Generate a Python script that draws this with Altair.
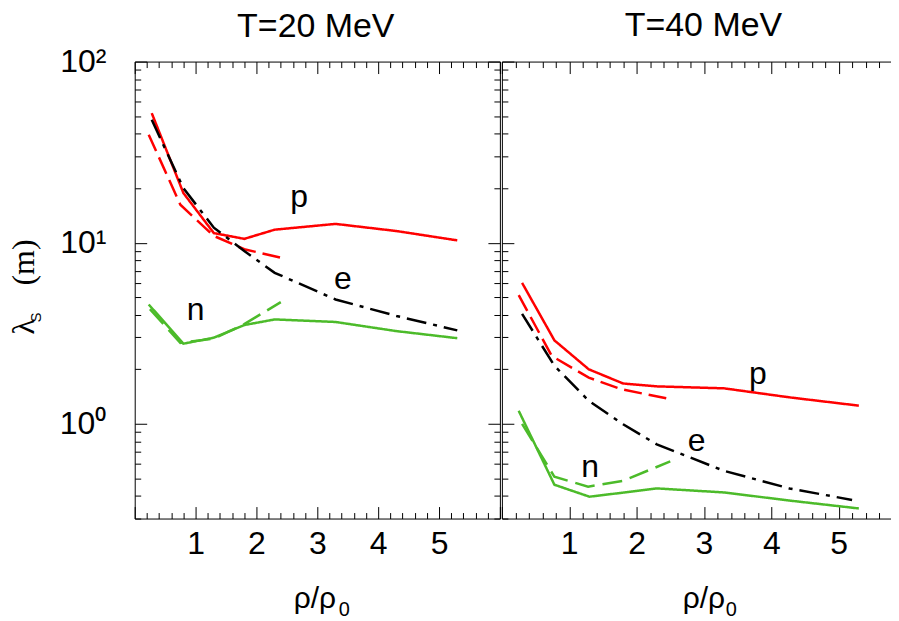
import altair as alt
import pandas as pd

FONT = "Liberation Sans"
SERIF = "Liberation Serif"

# ---------------- T = 20 MeV ----------------
x20_p = [0.28, 0.8, 1.3, 1.8, 2.3, 3.3, 4.3, 5.3]
p20_solid = [51.9, 18.8, 11.3, 10.5, 11.8, 12.7, 11.6, 10.3]
x20_pd = [0.23, 0.75, 1.3, 1.8, 2.45]
p20_dash = [39.5, 16.2, 10.9, 9.2, 8.2]
x20_e = [0.28, 0.8, 1.3, 1.8, 2.3, 3.3, 4.3, 5.3]
e20 = [47.7, 20.0, 12.1, 9.0, 6.82, 4.86, 3.94, 3.28]
x20_n = [0.23, 0.8, 1.3, 1.8, 2.3, 3.3, 4.3, 5.3]
n20_solid = [4.56, 2.77, 2.99, 3.51, 3.77, 3.65, 3.25, 2.97]
x20_nd = [0.25, 0.75, 1.3, 1.8, 2.4]
n20_dash = [4.3, 2.8, 2.95, 3.55, 4.7]

# ---------------- T = 40 MeV ----------------
x40_p = [0.3, 0.78, 1.29, 1.8, 2.3, 3.3, 4.27, 5.3]
p40_solid = [6.0, 2.89, 2.0, 1.67, 1.61, 1.57, 1.40, 1.26]
x40_pd = [0.25, 0.74, 1.29, 1.78, 2.5]
p40_dash = [5.14, 2.37, 1.80, 1.55, 1.37]
x40_e = [0.3, 0.78, 1.29, 1.8, 2.3, 3.3, 4.27, 5.2]
e40 = [4.05, 2.09, 1.34, 0.995, 0.77, 0.55, 0.44, 0.38]
x40_n = [0.25, 0.78, 1.3, 1.8, 2.3, 3.3, 4.27, 5.3]
n40_solid = [1.18, 0.461, 0.396, 0.417, 0.44, 0.418, 0.377, 0.341]
x40_nd = [0.3, 0.78, 1.28, 1.8, 2.5]
n40_dash = [1.0, 0.51, 0.45, 0.485, 0.62]

# curve labels
lab20_text = ["p", "e", "n"]
lab20_x = [2.70, 3.42, 1.00]
lab20_y = [17.9, 6.31, 4.26]
lab40_text = ["p", "e", "n"]
lab40_x = [3.80, 2.89, 1.31]
lab40_y = [1.88, 0.80, 0.58]

# axes
x_major = [0, 1, 2, 3, 4, 5, 6]
x_label_vals = [1, 2, 3, 4, 5]
x_minor = [round(i * 0.2, 1) for i in range(31) if i % 5 != 0]
y_major = [1, 10, 100]
y_minor = [0.3, 0.4, 0.5, 0.6, 0.7, 0.8, 0.9,
           2, 3, 4, 5, 6, 7, 8, 9,
           20, 30, 40, 50, 60, 70, 80, 90]

series_names = ["p_solid", "p_dash", "e", "n_solid", "n_dash"]
series_colors = ["#ff0000", "#ff0000", "#000000", "#4cbb2a", "#4cbb2a"]
series_dash = [[1, 0], [18, 7], [20, 7, 4, 7], [1, 0], [20, 8]]

rows = []
def add(panel, series, xs, ys):
    for k, (a, b) in enumerate(zip(xs, ys)):
        rows.append(dict(panel=panel, series=series, x=a, y=b, i=k))

add("T20", "p_solid", x20_p, p20_solid)
add("T20", "p_dash", x20_pd, p20_dash)
add("T20", "e", x20_e, e20)
add("T20", "n_solid", x20_n, n20_solid)
add("T20", "n_dash", x20_nd, n20_dash)
add("T40", "p_solid", x40_p, p40_solid)
add("T40", "p_dash", x40_pd, p40_dash)
add("T40", "e", x40_e, e40)
add("T40", "n_solid", x40_n, n40_solid)
add("T40", "n_dash", x40_nd, n40_dash)
df = pd.DataFrame(rows)

lab_rows = []
for t, a, b in zip(lab20_text, lab20_x, lab20_y):
    lab_rows.append(dict(panel="T20", t=t, x=a, y=b))
for t, a, b in zip(lab40_text, lab40_x, lab40_y):
    lab_rows.append(dict(panel="T40", t=t, x=a, y=b))
labels = pd.DataFrame(lab_rows)

H = 458


def tick_axis(orient, values, size, domain):
    # inward ticks: negative tick length given through an expression
    return alt.Axis(orient=orient, values=values, tickSize={"expr": str(-size)},
                    ticks=True, labels=False, domain=domain, grid=False, title=None,
                    tickColor="black", tickWidth=1, domainColor="black", domainWidth=1,
                    minExtent=0, maxExtent=0)


def title_axis(orient, text, font, size, tx, ty, angle=None):
    kw = dict(orient=orient, labels=False, ticks=False, domain=False, grid=False,
              title=text, titleFont=font, titleFontSize=size, titleFontWeight="normal",
              titleAlign="left", titleBaseline="alphabetic", titleX=tx, titleY=ty,
              titleColor="black", minExtent=0)
    if angle is not None:
        kw["titleAngle"] = angle
    return alt.Axis(**kw)


def make_panel(name, W, xmax, title, title_dx, title_offset, xt_center, xt_sub, left_panel):
    d = df[df.panel == name]
    lab = labels[labels.panel == name]
    xs = alt.Scale(domain=[0, xmax], nice=False, zero=False)
    ys = alt.Scale(type="log", domain=[0.3, 100], nice=False)
    xmaj = [v for v in x_major if v <= xmax]
    xmin = [v for v in x_minor if v <= xmax]
    base = alt.Chart(d)

    x_lab_axis = alt.Axis(orient="bottom", values=x_label_vals, format="d", ticks=False,
                          tickSize=0, domain=False, grid=False, labelFont=FONT, labelFontSize=32,
                          labelPadding=10, labelColor="black",
                          title="ρ/ρ", titleFont=FONT, titleFontSize=30,
                          titleFontWeight="normal", titleX=xt_center, titleY=89,
                          titleAlign="center", titleBaseline="alphabetic", titleColor="black")
    if left_panel:
        y_lab_axis = alt.Axis(orient="left", values=y_major,
                              labelExpr="datum.value == 1 ? '10⁰' : (datum.value == 10 ? '10¹' : '10²')",
                              ticks=False, tickSize=0, domain=False, grid=False, labelFont=FONT,
                              labelFontSize=32, labelPadding=29, labelColor="black",
                              title="(m)", titleFont=SERIF, titleFontSize=32,
                              titleFontWeight="normal", titleAngle=270, titleAlign="left",
                              titleBaseline="alphabetic", titleX=-101, titleY=224,
                              titleColor="black")
    else:
        y_lab_axis = None

    lines = base.mark_line(strokeWidth=2.5).encode(
        x=alt.X("x:Q", scale=xs, axis=x_lab_axis),
        y=alt.Y("y:Q", scale=ys, axis=y_lab_axis),
        color=alt.Color("series:N", scale=alt.Scale(domain=series_names, range=series_colors), legend=None),
        strokeDash=alt.StrokeDash("series:N", scale=alt.Scale(domain=series_names, range=series_dash), legend=None),
        order="i:Q",
    )
    tB = base.mark_point(opacity=0).encode(
        x=alt.X("x:Q", scale=xs, axis=tick_axis("bottom", xmaj, 12, True)),
        y=alt.Y("y:Q", scale=ys, axis=tick_axis("left", y_major, 12, True)),
    )
    tC = base.mark_point(opacity=0).encode(
        x=alt.X("x:Q", scale=xs, axis=tick_axis("top", xmaj, 12, True)),
        y=alt.Y("y:Q", scale=ys, axis=tick_axis("right", y_major, 12, True) if left_panel else None),
    )
    tD = base.mark_point(opacity=0).encode(
        x=alt.X("x:Q", scale=xs, axis=tick_axis("bottom", xmin, 6, False)),
        y=alt.Y("y:Q", scale=ys, axis=tick_axis("left", y_minor, 6, False)),
    )
    tE = base.mark_point(opacity=0).encode(
        x=alt.X("x:Q", scale=xs, axis=tick_axis("top", xmin, 6, False)),
        y=alt.Y("y:Q", scale=ys, axis=tick_axis("right", y_minor, 6, False) if left_panel else None),
    )
    # subscript "0" of the x-axis title
    tSub = base.mark_point(opacity=0).encode(
        x=alt.X("x:Q", scale=xs, axis=title_axis("bottom", "0", FONT, 20, xt_sub, 97)),
        y=alt.Y("y:Q", scale=ys, axis=None),
    )
    txt = alt.Chart(lab).mark_text(font=FONT, fontSize=32, align="center",
                                   baseline="middle", color="black").encode(
        x=alt.X("x:Q", scale=xs, axis=None),
        y=alt.Y("y:Q", scale=ys, axis=None),
        text="t:N",
    )
    layers = [lines, tB, tC, tD, tE, tSub, txt]
    if left_panel:
        tF = base.mark_point(opacity=0).encode(
            x=alt.X("x:Q", scale=xs, axis=None),
            y=alt.Y("y:Q", scale=ys, axis=title_axis("left", "λ", SERIF, 32, -101, 273, 270)),
        )
        tG = base.mark_point(opacity=0).encode(
            x=alt.X("x:Q", scale=xs, axis=None),
            y=alt.Y("y:Q", scale=ys, axis=title_axis("left", "S", FONT, 15, -94, 261, 270)),
        )
        layers += [tF, tG]
    return alt.layer(*layers).resolve_axis(x="independent", y="independent").properties(
        width=W, height=H,
        title=alt.TitleParams(text=title, font=FONT, fontSize=34, fontWeight="normal",
                              anchor="middle", frame="group", offset=title_offset,
                              baseline="alphabetic", dx=title_dx, color="black"),
    )


W1 = 366
W2 = 390
left = make_panel("T20", W1, 6.0, "T=20 MeV", -1.5, -25, 180, 204, True)
right = make_panel("T40", W2, W2 / 67.5, "T=40 MeV", 7, -9, 202, 224, False)

chart = alt.hconcat(left, right, spacing=0, padding=0).configure_view(stroke=None)
chart.save("out.html", embed_options={"renderer": "svg", "actions": False})
